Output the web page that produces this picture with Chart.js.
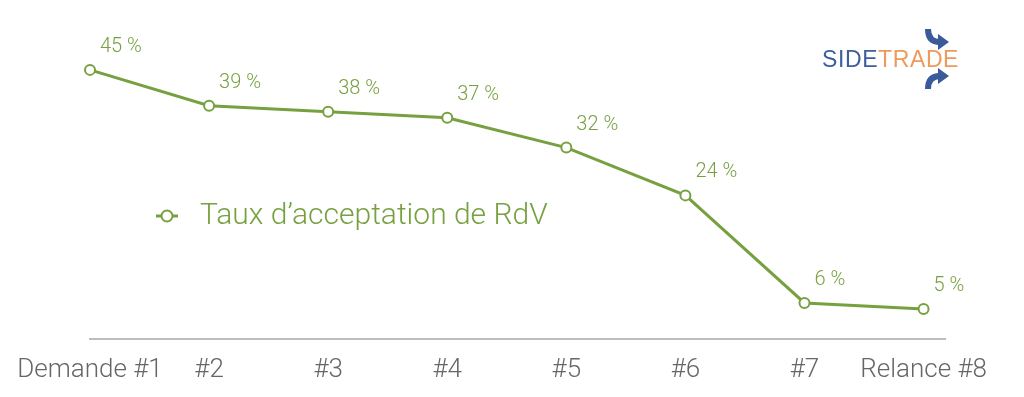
<!DOCTYPE html>
<html>
<head>
<meta charset="utf-8">
<script src="https://cdn.jsdelivr.net/npm/chart.js@4"></script>
<style>
  html, body { margin: 0; padding: 0; background: #fff; }
  #wrap { position: relative; width: 1024px; height: 397px; }
  #logo { position: absolute; left: 822px; top: 26px; width: 150px; height: 70px; }
  #logo .txt { position: absolute; left: 0; top: 20px; font-family: "Liberation Sans", Arial, sans-serif; font-size: 23px; letter-spacing: 0.6px; line-height: 26px; }
</style>
</head>
<body>
<div id="wrap">
  <canvas id="canvas" width="1024" height="397"></canvas>
  <div id="logo">
    <svg width="150" height="70" style="position:absolute;left:0;top:0">
      <path d="M106 3 Q106 16 118 16" stroke="#3a5a9a" stroke-width="6" fill="none"/>
      <path d="M116 8 L127 16 L116 24 Z" fill="#3a5a9a"/>
      <path d="M106 63 Q106 50 118 50" stroke="#3a5a9a" stroke-width="6" fill="none"/>
      <path d="M116 42 L127 50 L116 58 Z" fill="#3a5a9a"/>
    </svg>
    <div class="txt"><span style="color:#3d5f9e">SIDE</span><span style="color:#ee9a5c">TRADE</span></div>
  </div>
</div>
<script>
var categories = ["Demande #1", "#2", "#3", "#4", "#5", "#6", "#7", "Relance #8"];
var values = [45, 39, 38, 37, 32, 24, 6, 5];
var seriesName = "Taux d\u2019acceptation de RdV";

var green = "#77a040";

var points = values.map(function (v, i) {
  return { x: i, y: v };
});

// labels "45 %" drawn next to each point
var valueLabels = {
  id: "valueLabels",
  afterDatasetsDraw: function (chart) {
    var ctx = chart.ctx;
    var meta = chart.getDatasetMeta(0);
    ctx.save();
    ctx.fillStyle = green;
    ctx.font = "300 20px Roboto";
    ctx.textAlign = "left";
    ctx.textBaseline = "middle";
    meta.data.forEach(function (pt, i) {
      ctx.fillText(values[i] + " %", pt.x + 10, pt.y - 23);
    });
    ctx.restore();
  }
};

// legend placed inside the plot
var innerLegend = {
  id: "innerLegend",
  afterDraw: function (chart) {
    var ctx = chart.ctx;
    var x = 156, y = 216;
    ctx.save();
    ctx.strokeStyle = green;
    ctx.lineWidth = 3;
    ctx.beginPath();
    ctx.moveTo(x, y);
    ctx.lineTo(x + 22, y);
    ctx.stroke();
    ctx.beginPath();
    ctx.arc(x + 11, y, 5.5, 0, Math.PI * 2);
    ctx.fillStyle = "#fff";
    ctx.fill();
    ctx.lineWidth = 2;
    ctx.stroke();
    ctx.fillStyle = green;
    ctx.font = "300 30px Roboto";
    ctx.textBaseline = "middle";
    ctx.fillText(seriesName, x + 44, y);
    ctx.restore();
  }
};

const ctx = document.getElementById("canvas").getContext("2d");
const myChart = new Chart(ctx, {
  type: "line",
  data: {
    datasets: [
      {
        label: seriesName,
        data: points,
        borderColor: green,
        borderWidth: 3,
        backgroundColor: "#fff",
        pointBackgroundColor: "#fff",
        pointBorderColor: green,
        pointBorderWidth: 2,
        pointRadius: 5,
        fill: false,
        clip: false,
        tension: 0,
      },
    ],
  },
  options: {
    responsive: false,
    animation: false,
    layout: { padding: { left: 90, right: 79, top: 40, bottom: 3 } },
    plugins: { legend: { display: false }, tooltip: { enabled: false } },
    scales: {
      x: {
        type: "linear",
        min: 0,
        max: 7.18,
        afterBuildTicks: function (scale) {
          scale.ticks = categories.map(function (c, i) {
            return { value: i };
          });
        },
        grid: { display: false },
        border: { display: true, color: "#bdbdbd", width: 2 },
        ticks: {
          autoSkip: false,
          maxRotation: 0,
          padding: 8,
          color: "#666",
          font: { family: "Roboto", size: 26, weight: "300" },
          callback: function (v) {
            return categories[v];
          },
        },
      },
      y: {
        display: false,
        min: 0,
        max: 50,
      },
    },
  },
  plugins: [valueLabels, innerLegend],
});
</script>
</body>
</html>
